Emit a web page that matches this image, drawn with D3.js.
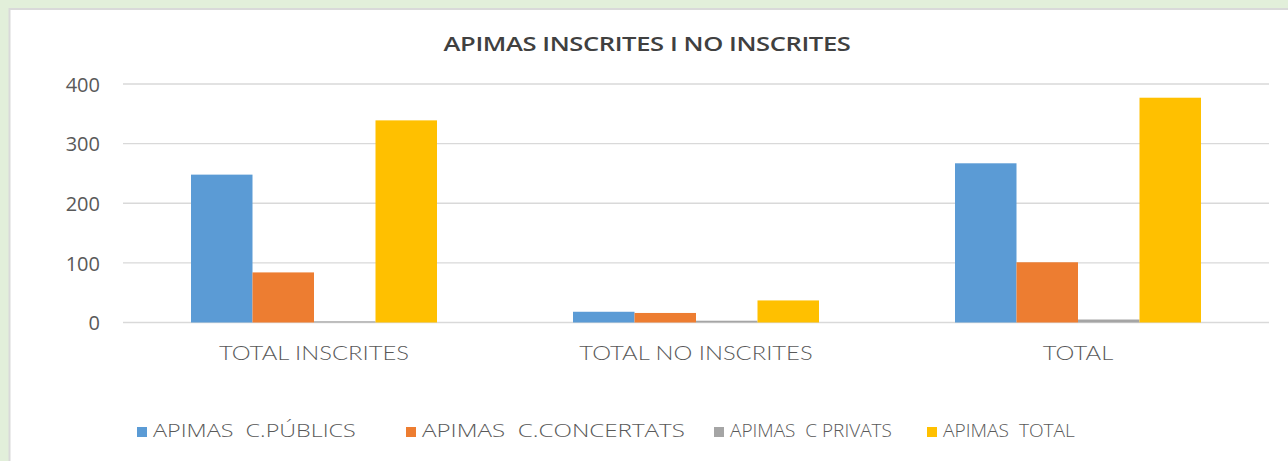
<!DOCTYPE html>
<html>
<head>
<meta charset="utf-8">
<script src="https://cdn.jsdelivr.net/npm/d3@7"></script>
<style>
  html, body { margin: 0; padding: 0; background: #e2efda; }
  svg { display: block; }
  text { font-family: "Open Sans", "DejaVu Sans", sans-serif; }
</style>
</head>
<body>
<svg id="chart" width="1288" height="461"></svg>
<script>
// Categories and series
const categories = ["TOTAL INSCRITES", "TOTAL NO INSCRITES", "TOTAL"];
const seriesNames = ["APIMAS  C.PÚBLICS", "APIMAS  C.CONCERTATS", "APIMAS  C PRIVATS", "APIMAS  TOTAL"];
const publics    = [248, 18, 267];
const concertats = [84, 16, 101];
const privats    = [2, 3, 5];
const total      = [339, 37, 377];
const yTicks     = [0, 100, 200, 300, 400];
const colors     = ["#5b9bd5", "#ed7d31", "#a5a5a5", "#ffc000"];

const seriesValues = [publics, concertats, privats, total];

const W = 1288, H = 461;
const svg = d3.select("#chart");

// outer frame: green margin, grey border, white chart area
svg.append("rect").attr("x", 0).attr("y", 0).attr("width", W).attr("height", H).attr("fill", "#e2efda");
svg.append("rect").attr("x", 9.5).attr("y", 9).attr("width", W).attr("height", H)
  .attr("fill", "#ffffff").attr("stroke", "#d9d9d9").attr("stroke-width", 2);

const plot = { left: 123, right: 1269, top: 84, bottom: 322.5 };

const x0 = d3.scaleBand().domain(categories).range([plot.left, plot.right]).paddingInner(0).paddingOuter(0);
const groupPad = 68;
const x1 = d3.scaleBand().domain(d3.range(seriesNames.length))
  .range([groupPad, x0.bandwidth() - groupPad]).padding(0);
const y = d3.scaleLinear().domain([0, 400]).range([plot.bottom, plot.top]);

// gridlines
svg.append("g").selectAll("line").data(yTicks).join("line")
  .attr("x1", plot.left).attr("x2", plot.right)
  .attr("y1", d => y(d)).attr("y2", d => y(d))
  .attr("stroke", "#d9d9d9").attr("stroke-width", 1.3);

// y axis labels
const yAxis = d3.axisLeft(y).tickValues(yTicks).tickSize(0).tickPadding(0);
const gy = svg.append("g").attr("transform", "translate(100,0)").call(yAxis);
gy.select(".domain").remove();
gy.selectAll("text")
  .attr("fill", "#595959").attr("font-size", 20).attr("dy", "0.36em")
  .style("font-family", "'Open Sans', sans-serif");

// bars
const rows = categories.map((c, i) => ({ cat: c, vals: seriesValues.map(s => s[i]) }));
const groups = svg.append("g").selectAll("g").data(rows).join("g")
  .attr("transform", d => `translate(${x0(d.cat)},0)`);
groups.selectAll("rect").data(d => d.vals.map((v, k) => ({ v, k }))).join("rect")
  .attr("x", d => x1(d.k))
  .attr("width", x1.bandwidth())
  .attr("y", d => y(d.v))
  .attr("height", d => y(0) - y(d.v))
  .attr("fill", d => colors[d.k]);

// category labels (slightly widened lettering)
const xAxis = d3.axisBottom(x0).tickSize(0).tickPadding(0);
const gx = svg.append("g").attr("transform", `translate(0,${plot.bottom})`).call(xAxis);
gx.select(".domain").remove();
gx.selectAll("text")
  .attr("y", 0).attr("dy", 0)
  .attr("transform", "translate(0,37.5) scale(1.19,1)")
  .attr("fill", "#595959").attr("font-size", 20)
  .style("font-family", "'Lato', sans-serif").style("font-weight", 300);

// title, stretched to its full width
const titleG = svg.append("g").attr("transform", "translate(647,51)");
const title = titleG.append("text").attr("text-anchor", "middle")
  .attr("fill", "#404040").attr("font-size", 19).attr("font-weight", 600)
  .attr("letter-spacing", -0.3)
  .text("APIMAS INSCRITES I NO INSCRITES");
const tw = title.node().getComputedTextLength();
title.attr("transform", `scale(${407 / tw},1)`);

// legend: swatch positions and label widths
const legendX = [137, 406, 714, 927];
const legendW = [203, 263, 162, 132];
const items = svg.append("g").selectAll("g").data(seriesNames).join("g")
  .attr("transform", (d, i) => `translate(${legendX[i]},0)`);
items.append("rect").attr("width", 10).attr("height", 10).attr("y", 427)
  .attr("fill", (d, i) => colors[i]);
items.append("text")
  .attr("fill", "#595959").attr("font-size", 17.5)
  .style("white-space", "pre").style("font-weight", 300)
  .style("font-family", "'Open Sans', sans-serif")
  .text(d => d)
  .attr("transform", function (d, i) {
    const w = this.getComputedTextLength();
    return `translate(16,437) scale(${legendW[i] / w},1)`;
  });
</script>
</body>
</html>
